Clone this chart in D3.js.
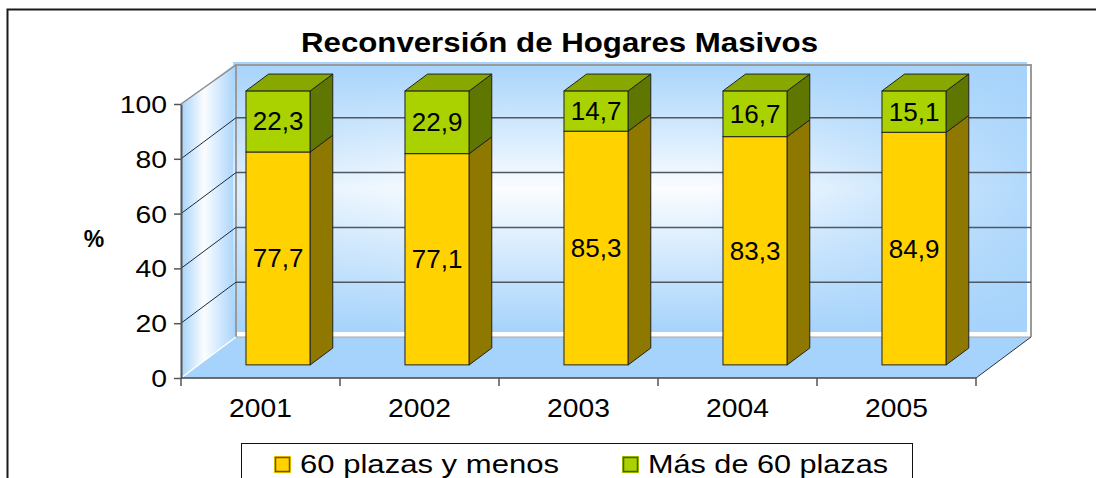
<!DOCTYPE html>
<html lang="es">
<head>
<meta charset="UTF-8">
<title>Reconversión de Hogares Masivos</title>
<script src="https://cdn.jsdelivr.net/npm/d3@7"></script>
<style>
  body { margin: 0; background: #fff; }
  svg { display: block; font-family: Arial, "Liberation Sans", sans-serif; }
</style>
</head>
<body>
<script>
    const years = ['2001', '2002', '2003', '2004', '2005'];
    const menos60 = [77.7, 77.1, 85.3, 83.3, 84.9];
    const mas60 = [22.3, 22.9, 14.7, 16.7, 15.1];
    const yTicks = [0, 20, 40, 60, 80, 100];
    const seriesNames = ['60 plazas y menos', 'Más de 60 plazas'];

    const width = 1096, height = 478;
    const svg = d3.select('body').append('svg')
        .attr('width', width)
        .attr('height', height);

    // front plane of the plot, and the 3d depth of the floor
    const plotLeft = 181, plotRight = 976, plotBottom = 378, plotTop = 104;
    const depthX = 55, depthY = -41;
    const barFront = 0.32, barBack = 0.73;
    const bdx = (barBack - barFront) * depthX, bdy = (barBack - barFront) * depthY;

    const x = d3.scaleBand().domain(years).range([plotLeft, plotRight])
        .paddingInner(0.596).paddingOuter(0.298);
    const y = d3.scaleLinear().domain([0, 100]).range([plotBottom, plotTop]);

    const defs = svg.append('defs');
    const blue = '#a6d3fb';
    const g1 = defs.append('linearGradient').attr('id', 'backV').attr('x1', 0).attr('y1', 0).attr('x2', 0).attr('y2', 1);
    g1.append('stop').attr('offset', 0).attr('stop-color', blue);
    g1.append('stop').attr('offset', 0.47).attr('stop-color', '#fbfdff');
    g1.append('stop').attr('offset', 1).attr('stop-color', blue);
    const g2 = defs.append('linearGradient').attr('id', 'backH').attr('x1', 0).attr('y1', 0).attr('x2', 1).attr('y2', 0);
    g2.append('stop').attr('offset', 0).attr('stop-color', blue).attr('stop-opacity', 0.35);
    g2.append('stop').attr('offset', 0.3).attr('stop-color', blue).attr('stop-opacity', 0);
    g2.append('stop').attr('offset', 0.6).attr('stop-color', blue).attr('stop-opacity', 0);
    g2.append('stop').attr('offset', 1).attr('stop-color', blue).attr('stop-opacity', 0.85);
    const g3 = defs.append('linearGradient').attr('id', 'side').attr('x1', 0).attr('y1', 0).attr('x2', 1).attr('y2', 0);
    g3.append('stop').attr('offset', 0).attr('stop-color', blue);
    g3.append('stop').attr('offset', 0.42).attr('stop-color', '#fbfdff');
    g3.append('stop').attr('offset', 1).attr('stop-color', blue);

    // outer frame
    svg.append('rect').attr('x', 7.5).attr('y', 9.5).attr('width', 1200).attr('height', 600)
        .attr('fill', 'none').attr('stroke', '#1a1a1a').attr('stroke-width', 2);

    // title
    svg.append('text').attr('x', 559.5).attr('y', 52).attr('text-anchor', 'middle')
        .attr('font-size', 28).attr('font-weight', 'bold')
        .attr('textLength', 517).attr('lengthAdjust', 'spacingAndGlyphs')
        .text('Reconversión de Hogares Masivos');

    // walls and floor
    const bl = plotLeft + depthX, bt = y(100) + depthY, bb = y(0) + depthY, br = plotRight + depthX;
    svg.append('polygon')
        .attr('points', [[plotLeft, plotBottom], [plotLeft, plotTop], [bl, bt], [bl, bb]].join(' '))
        .attr('fill', 'url(#side)');
    svg.append('rect').attr('x', bl - 3).attr('y', bt - 1).attr('width', br - bl - 1).attr('height', bb - bt - 4)
        .attr('fill', 'url(#backV)');
    svg.append('rect').attr('x', bl - 3).attr('y', bt - 1).attr('width', br - bl - 1).attr('height', bb - bt - 4)
        .attr('fill', 'url(#backH)');
    svg.append('line').attr('x1', bl).attr('x2', br).attr('y1', bb - 2).attr('y2', bb - 2)
        .attr('stroke', '#fff').attr('stroke-width', 3);
    svg.append('polygon')
        .attr('points', [[plotLeft, plotBottom], [plotRight, plotBottom], [br, bb], [bl, bb]].join(' '))
        .attr('fill', blue);

    // wall edges
    svg.append('polyline')
        .attr('points', [[bl, bb], [bl, bt + 2], [br, bt + 2], [br, bb]].join(' '))
        .attr('fill', 'none').attr('stroke', '#9a9a9a').attr('stroke-width', 2);
    svg.append('line').attr('x1', plotLeft).attr('y1', plotTop).attr('x2', bl).attr('y2', bt + 2)
        .attr('stroke', '#8a8a8a').attr('stroke-width', 1.5);
    svg.append('line').attr('x1', plotLeft).attr('y1', plotBottom).attr('x2', bl).attr('y2', bb)
        .attr('stroke', '#ffffff').attr('stroke-width', 1.5);
    svg.append('line').attr('x1', bl).attr('y1', bb).attr('x2', br).attr('y2', bb)
        .attr('stroke', '#a8a8a8').attr('stroke-width', 1);

    // gridlines
    const grid = yTicks.filter(d => d > 0 && d < 100);
    svg.selectAll('.gridBack').data(grid).enter().append('line').attr('class', 'gridBack')
        .attr('x1', bl).attr('x2', br)
        .attr('y1', d => y(d) + depthY).attr('y2', d => y(d) + depthY)
        .attr('stroke', '#4f5862').attr('stroke-width', 1.5);
    svg.selectAll('.gridSide').data(grid).enter().append('line').attr('class', 'gridSide')
        .attr('x1', plotLeft).attr('y1', d => y(d))
        .attr('x2', bl).attr('y2', d => y(d) + depthY)
        .attr('stroke', '#1f2a35').attr('stroke-width', 1);

    // stacked 3d bars
    const segments = [];
    years.forEach((yr, i) => {
        segments.push({ year: yr, base: 0, value: menos60[i], lidOn: false,
            front: '#ffd200', side: '#8f7800', lid: '#c9a800' });
        segments.push({ year: yr, base: menos60[i], value: mas60[i], lidOn: true,
            front: '#aad200', side: '#5f7700', lid: '#88a800' });
    });

    const bars = svg.selectAll('.seg').data(segments).enter().append('g').attr('class', 'seg');
    const fx = d => x(d.year) + barFront * depthX;
    const fy = d => y(d.base + d.value) + barFront * depthY;
    const fh = d => y(d.base) - y(d.base + d.value);
    const w = x.bandwidth();

    bars.append('rect')
        .attr('x', fx).attr('y', fy)
        .attr('width', w).attr('height', fh)
        .attr('fill', d => d.front).attr('stroke', '#222').attr('stroke-width', 1);
    bars.append('polygon')
        .attr('points', d => {
            const x0 = fx(d) + w, y0 = fy(d), h = fh(d);
            return [[x0, y0], [x0 + bdx, y0 + bdy], [x0 + bdx, y0 + h + bdy], [x0, y0 + h]].join(' ');
        })
        .attr('fill', d => d.side).attr('stroke', '#222').attr('stroke-width', 1).attr('stroke-linejoin', 'round');
    bars.filter(d => d.lidOn).append('polygon')
        .attr('points', d => {
            const x0 = fx(d), y0 = fy(d);
            return [[x0, y0], [x0 + bdx, y0 + bdy], [x0 + w + bdx, y0 + bdy], [x0 + w, y0]].join(' ');
        })
        .attr('fill', d => d.lid).attr('stroke', '#222').attr('stroke-width', 1).attr('stroke-linejoin', 'round');
    bars.append('text')
        .attr('x', d => fx(d) + w / 2)
        .attr('y', d => fy(d) + fh(d) / 2 + 9)
        .attr('text-anchor', 'middle')
        .attr('font-size', 26)
        .text(d => d.value.toFixed(1).replace('.', ','));

    // y axis
    const yAxis = svg.append('g').attr('transform', `translate(${plotLeft},0)`)
        .call(d3.axisLeft(y).tickValues(yTicks).tickSize(7).tickSizeOuter(0));
    yAxis.select('.domain').attr('stroke', '#555').attr('stroke-width', 2);
    yAxis.selectAll('.tick line').attr('stroke', '#555').attr('stroke-width', 1.5);
    yAxis.selectAll('.tick text')
        .attr('x', 0).attr('dy', null).attr('y', 0)
        .attr('transform', 'translate(-14,8.5) scale(1.18,1)')
        .attr('font-size', 24).attr('font-family', 'Arial, "Liberation Sans", sans-serif')
        .attr('fill', '#000');

    svg.append('text').attr('x', 94).attr('y', 247).attr('text-anchor', 'middle')
        .attr('font-size', 23).attr('font-weight', 'bold').text('%');

    // x axis
    svg.append('line').attr('x1', plotLeft).attr('x2', plotRight).attr('y1', plotBottom).attr('y2', plotBottom)
        .attr('stroke', '#444').attr('stroke-width', 1.5);
    svg.append('line').attr('x1', plotRight).attr('y1', plotBottom).attr('x2', br).attr('y2', bb)
        .attr('stroke', '#333').attr('stroke-width', 1);
    const bounds = years.map(d => x(d) + w / 2 - x.step() / 2).concat([plotRight]);
    svg.selectAll('.xtick').data(bounds).enter().append('line').attr('class', 'xtick')
        .attr('x1', d => d).attr('x2', d => d).attr('y1', plotBottom).attr('y2', plotBottom + 8)
        .attr('stroke', '#555').attr('stroke-width', 1.5);
    const xAxis = svg.append('g').attr('transform', `translate(0,${plotBottom})`)
        .call(d3.axisBottom(x).tickSize(0));
    xAxis.select('.domain').remove();
    xAxis.selectAll('.tick text')
        .attr('y', 0).attr('dy', null)
        .attr('transform', 'translate(0,39) scale(1.13,1)')
        .attr('font-size', 25).attr('font-family', 'Arial, "Liberation Sans", sans-serif')
        .attr('fill', '#000');

    // legend
    svg.append('rect').attr('x', 241.5).attr('y', 443.5).attr('width', 671).attr('height', 60)
        .attr('fill', '#fff').attr('stroke', '#111').attr('stroke-width', 1);
    const legend = [
        { name: seriesNames[0], color: '#ffd200', edge: '#6b5a00', mx: 274, tx: 300, len: 259 },
        { name: seriesNames[1], color: '#aad200', edge: '#4d5f00', mx: 622, tx: 648, len: 240 }
    ];
    const lg = svg.selectAll('.leg').data(legend).enter().append('g').attr('class', 'leg');
    lg.append('rect').attr('x', d => d.mx).attr('y', 456).attr('width', 17).attr('height', 17)
        .attr('fill', d => d.color);
    lg.append('rect').attr('x', d => d.mx + 1.5).attr('y', 457.5).attr('width', 14).attr('height', 14)
        .attr('fill', d => d.color).attr('stroke', d => d.edge).attr('stroke-width', 1.5);
    lg.append('text').attr('x', d => d.tx).attr('y', 473)
        .attr('font-size', 25)
        .attr('textLength', d => d.len).attr('lengthAdjust', 'spacingAndGlyphs')
        .text(d => d.name);
</script>
</body>
</html>
